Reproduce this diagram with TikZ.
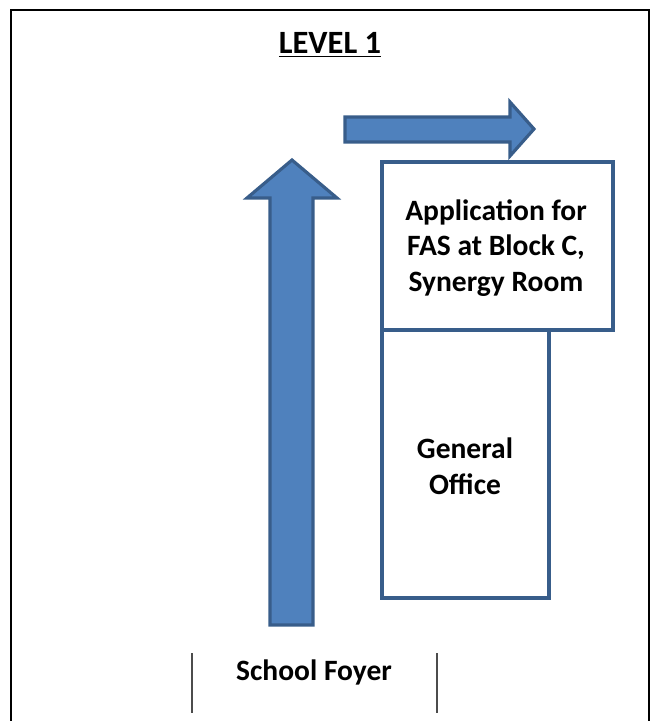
\documentclass[tikz,border=0pt]{standalone}
\usepackage{fontspec}
\setmainfont{Carlito}
\usepackage{tikz}
\definecolor{arrowblue}{RGB}{79,129,189}
\definecolor{edgeblue}{RGB}{56,93,138}
\tikzset{
  room/.style={draw=edgeblue, line width=1.8pt, fill=white},
  label/.style={font=\fontsize{16.8}{20.4}\selectfont\bfseries, align=center},
  flow/.style={draw=edgeblue, line width=1.8pt, fill=arrowblue, line join=miter}
}

\begin{document}
\begin{tikzpicture}[x=0.02cm, y=-0.02cm]
    \useasboundingbox (0, 0) rectangle (652, 721);
    % frame of the floor
    \draw[line width=1.1pt] (11, 721) -- (11, 10) -- (649, 10) -- (649, 721);
    \node[label, font=\fontsize{18.5}{22}\selectfont\bfseries] (title) at (330, 45) {\underline{LEVEL 1}};

    % arrows
    \draw[flow] (345, 117) -- (510, 117) -- (510, 102) -- (534, 129) -- (510, 156) -- (510, 142) -- (345, 142) -- cycle;
    \draw[flow] (270, 625) -- (270, 198) -- (247, 198) -- (292, 160) -- (337, 198) -- (313, 198) -- (313, 625) -- cycle;

    % rooms
    \draw[room] (382, 162) rectangle (613, 330);
    \draw[room] (382, 330) rectangle (549, 598);
    \node[label] (fas) at (496, 248) {Application for\\FAS at Block C,\\Synergy Room};
    \node[label] (office) at (465, 466) {General\\Office};

    % entrance
    \draw[gray!60!black, semithick] (192, 653) -- (192, 713);
    \draw[gray!60!black, semithick] (437, 653) -- (437, 713);
    \node[label] (foyer) at (314, 672) {School Foyer};
\end{tikzpicture}
\end{document}
